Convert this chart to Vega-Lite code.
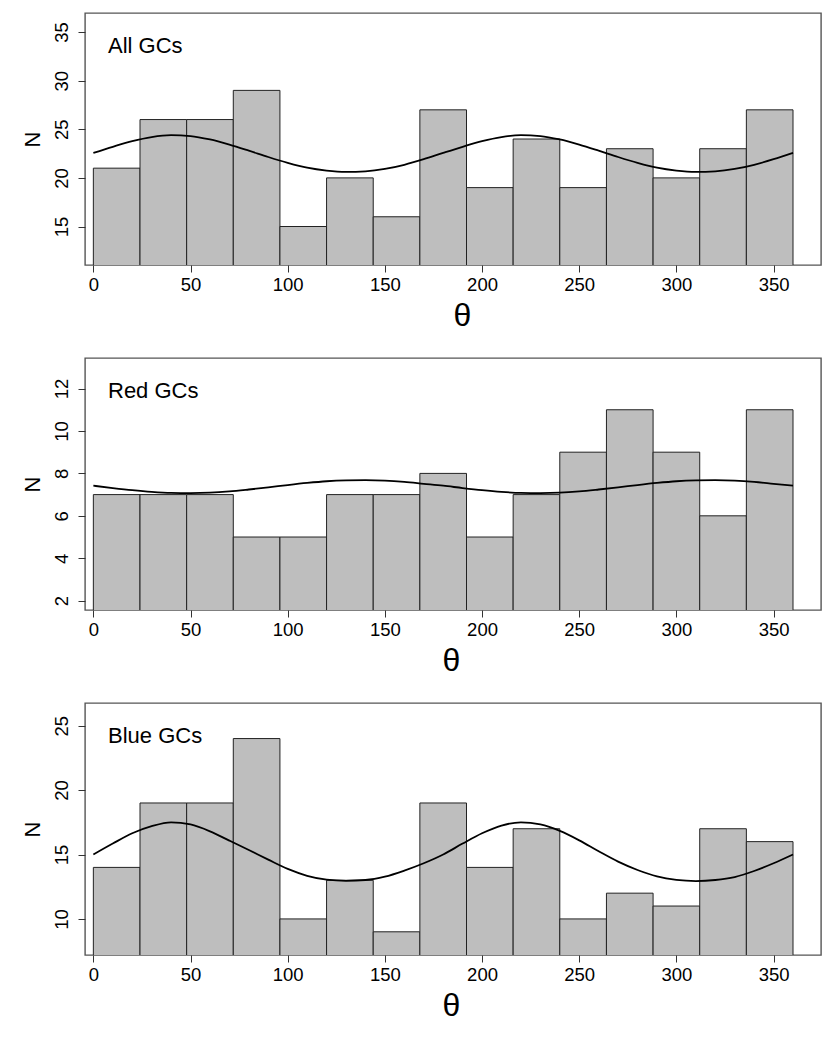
{
  "$schema": "https://vega.github.io/schema/vega-lite/v6.json",
  "padding": {"left": 20, "top": 12, "right": 0, "bottom": 0},
  "datasets": {
    "bars_all": [
      {"theta": 0, "theta_end": 24, "N": 21},
      {"theta": 24, "theta_end": 48, "N": 26},
      {"theta": 48, "theta_end": 72, "N": 26},
      {"theta": 72, "theta_end": 96, "N": 29},
      {"theta": 96, "theta_end": 120, "N": 15},
      {"theta": 120, "theta_end": 144, "N": 20},
      {"theta": 144, "theta_end": 168, "N": 16},
      {"theta": 168, "theta_end": 192, "N": 27},
      {"theta": 192, "theta_end": 216, "N": 19},
      {"theta": 216, "theta_end": 240, "N": 24},
      {"theta": 240, "theta_end": 264, "N": 19},
      {"theta": 264, "theta_end": 288, "N": 23},
      {"theta": 288, "theta_end": 312, "N": 20},
      {"theta": 312, "theta_end": 336, "N": 23},
      {"theta": 336, "theta_end": 360, "N": 27}
    ],
    "fit_all": [
      {"theta": 0, "N": 22.57}, {"theta": 10, "N": 23.2}, {"theta": 20, "N": 23.78},
      {"theta": 30, "N": 24.2}, {"theta": 40, "N": 24.39}, {"theta": 50, "N": 24.3},
      {"theta": 60, "N": 23.95}, {"theta": 70, "N": 23.42}, {"theta": 80, "N": 22.8},
      {"theta": 90, "N": 22.15}, {"theta": 100, "N": 21.55}, {"theta": 110, "N": 21.05},
      {"theta": 120, "N": 20.75}, {"theta": 130, "N": 20.62}, {"theta": 140, "N": 20.68},
      {"theta": 150, "N": 20.92}, {"theta": 160, "N": 21.35}, {"theta": 170, "N": 21.92},
      {"theta": 180, "N": 22.57}, {"theta": 190, "N": 23.2}, {"theta": 200, "N": 23.78},
      {"theta": 210, "N": 24.2}, {"theta": 220, "N": 24.39}, {"theta": 230, "N": 24.3},
      {"theta": 240, "N": 23.95}, {"theta": 250, "N": 23.42}, {"theta": 260, "N": 22.8},
      {"theta": 270, "N": 22.15}, {"theta": 280, "N": 21.55}, {"theta": 290, "N": 21.05},
      {"theta": 300, "N": 20.75}, {"theta": 310, "N": 20.62}, {"theta": 320, "N": 20.68},
      {"theta": 330, "N": 20.92}, {"theta": 340, "N": 21.35}, {"theta": 350, "N": 21.92},
      {"theta": 360, "N": 22.57}
    ],
    "bars_red": [
      {"theta": 0, "theta_end": 24, "N": 7},
      {"theta": 24, "theta_end": 48, "N": 7},
      {"theta": 48, "theta_end": 72, "N": 7},
      {"theta": 72, "theta_end": 96, "N": 5},
      {"theta": 96, "theta_end": 120, "N": 5},
      {"theta": 120, "theta_end": 144, "N": 7},
      {"theta": 144, "theta_end": 168, "N": 7},
      {"theta": 168, "theta_end": 192, "N": 8},
      {"theta": 192, "theta_end": 216, "N": 5},
      {"theta": 216, "theta_end": 240, "N": 7},
      {"theta": 240, "theta_end": 264, "N": 9},
      {"theta": 264, "theta_end": 288, "N": 11},
      {"theta": 288, "theta_end": 312, "N": 9},
      {"theta": 312, "theta_end": 336, "N": 6},
      {"theta": 336, "theta_end": 360, "N": 11}
    ],
    "fit_red": [
      {"theta": 0, "N": 7.42}, {"theta": 10, "N": 7.31}, {"theta": 20, "N": 7.21},
      {"theta": 30, "N": 7.13}, {"theta": 40, "N": 7.08}, {"theta": 50, "N": 7.07},
      {"theta": 60, "N": 7.09}, {"theta": 70, "N": 7.15}, {"theta": 80, "N": 7.24},
      {"theta": 90, "N": 7.34}, {"theta": 100, "N": 7.45}, {"theta": 110, "N": 7.55},
      {"theta": 120, "N": 7.63}, {"theta": 130, "N": 7.67}, {"theta": 140, "N": 7.68},
      {"theta": 150, "N": 7.66}, {"theta": 160, "N": 7.6}, {"theta": 170, "N": 7.51},
      {"theta": 180, "N": 7.42}, {"theta": 190, "N": 7.31}, {"theta": 200, "N": 7.21},
      {"theta": 210, "N": 7.13}, {"theta": 220, "N": 7.08}, {"theta": 230, "N": 7.07},
      {"theta": 240, "N": 7.09}, {"theta": 250, "N": 7.15}, {"theta": 260, "N": 7.24},
      {"theta": 270, "N": 7.34}, {"theta": 280, "N": 7.45}, {"theta": 290, "N": 7.55},
      {"theta": 300, "N": 7.63}, {"theta": 310, "N": 7.67}, {"theta": 320, "N": 7.68},
      {"theta": 330, "N": 7.66}, {"theta": 340, "N": 7.6}, {"theta": 350, "N": 7.51},
      {"theta": 360, "N": 7.42}
    ],
    "bars_blue": [
      {"theta": 0, "theta_end": 24, "N": 14},
      {"theta": 24, "theta_end": 48, "N": 19},
      {"theta": 48, "theta_end": 72, "N": 19},
      {"theta": 72, "theta_end": 96, "N": 24},
      {"theta": 96, "theta_end": 120, "N": 10},
      {"theta": 120, "theta_end": 144, "N": 13},
      {"theta": 144, "theta_end": 168, "N": 9},
      {"theta": 168, "theta_end": 192, "N": 19},
      {"theta": 192, "theta_end": 216, "N": 14},
      {"theta": 216, "theta_end": 240, "N": 17},
      {"theta": 240, "theta_end": 264, "N": 10},
      {"theta": 264, "theta_end": 288, "N": 12},
      {"theta": 288, "theta_end": 312, "N": 11},
      {"theta": 312, "theta_end": 336, "N": 17},
      {"theta": 336, "theta_end": 360, "N": 16}
    ],
    "fit_blue": [
      {"theta": 0, "N": 15.0}, {"theta": 10, "N": 15.85}, {"theta": 20, "N": 16.65},
      {"theta": 30, "N": 17.2}, {"theta": 40, "N": 17.5}, {"theta": 50, "N": 17.33},
      {"theta": 60, "N": 16.8}, {"theta": 70, "N": 16.08}, {"theta": 80, "N": 15.35},
      {"theta": 90, "N": 14.6}, {"theta": 100, "N": 13.88}, {"theta": 110, "N": 13.35},
      {"theta": 120, "N": 13.05}, {"theta": 130, "N": 12.96}, {"theta": 140, "N": 13.02},
      {"theta": 150, "N": 13.28}, {"theta": 160, "N": 13.75}, {"theta": 170, "N": 14.32},
      {"theta": 180, "N": 15.0}, {"theta": 190, "N": 15.85}, {"theta": 200, "N": 16.65},
      {"theta": 210, "N": 17.25}, {"theta": 220, "N": 17.5}, {"theta": 230, "N": 17.33},
      {"theta": 240, "N": 16.83}, {"theta": 250, "N": 16.1}, {"theta": 260, "N": 15.25},
      {"theta": 270, "N": 14.45}, {"theta": 280, "N": 13.8}, {"theta": 290, "N": 13.3},
      {"theta": 300, "N": 13.03}, {"theta": 310, "N": 12.94}, {"theta": 320, "N": 13.02},
      {"theta": 330, "N": 13.25}, {"theta": 340, "N": 13.72}, {"theta": 350, "N": 14.32},
      {"theta": 360, "N": 15.0}
    ]
  },
  "vconcat": [
    {
      "width": 736,
      "height": 252,
      "title": {"text": "All GCs"},
      "encoding": {
        "x": {
          "field": "theta",
          "type": "quantitative",
          "scale": {"domain": [-4.3, 374.4], "nice": false, "zero": false},
          "axis": {"title": "θ", "values": [0, 50, 100, 150, 200, 250, 300, 350], "titleX": 377}
        },
        "y": {
          "field": "N",
          "type": "quantitative",
          "scale": {"domain": [11.04, 36.96], "nice": false, "zero": false},
          "axis": {"title": "N", "values": [15, 20, 25, 30, 35]}
        }
      },
      "layer": [
        {
          "data": {"name": "bars_all"},
          "mark": {"type": "bar", "fill": "#bebebe", "stroke": "#222222", "strokeWidth": 1, "clip": true},
          "encoding": {"x2": {"field": "theta_end"}, "y2": {"datum": 0}}
        },
        {
          "data": {"name": "fit_all"},
          "mark": {"type": "line", "color": "black", "strokeWidth": 1.8, "interpolate": "monotone"}
        }
      ]
    },
    {
      "width": 736,
      "height": 252,
      "title": {"text": "Red GCs"},
      "encoding": {
        "x": {
          "field": "theta",
          "type": "quantitative",
          "scale": {"domain": [-4.3, 374.4], "nice": false, "zero": false},
          "axis": {"title": "θ", "values": [0, 50, 100, 150, 200, 250, 300, 350], "titleX": 366}
        },
        "y": {
          "field": "N",
          "type": "quantitative",
          "scale": {"domain": [1.56, 13.44], "nice": false, "zero": false},
          "axis": {"title": "N", "values": [2, 4, 6, 8, 10, 12]}
        }
      },
      "layer": [
        {
          "data": {"name": "bars_red"},
          "mark": {"type": "bar", "fill": "#bebebe", "stroke": "#222222", "strokeWidth": 1, "clip": true},
          "encoding": {"x2": {"field": "theta_end"}, "y2": {"datum": 0}}
        },
        {
          "data": {"name": "fit_red"},
          "mark": {"type": "line", "color": "black", "strokeWidth": 1.8, "interpolate": "monotone"}
        }
      ]
    },
    {
      "width": 736,
      "height": 252,
      "title": {"text": "Blue GCs"},
      "encoding": {
        "x": {
          "field": "theta",
          "type": "quantitative",
          "scale": {"domain": [-4.3, 374.4], "nice": false, "zero": false},
          "axis": {"title": "θ", "values": [0, 50, 100, 150, 200, 250, 300, 350], "titleX": 366}
        },
        "y": {
          "field": "N",
          "type": "quantitative",
          "scale": {"domain": [7.2, 26.76], "nice": false, "zero": false},
          "axis": {"title": "N", "values": [10, 15, 20, 25]}
        }
      },
      "layer": [
        {
          "data": {"name": "bars_blue"},
          "mark": {"type": "bar", "fill": "#bebebe", "stroke": "#222222", "strokeWidth": 1, "clip": true},
          "encoding": {"x2": {"field": "theta_end"}, "y2": {"datum": 0}}
        },
        {
          "data": {"name": "fit_blue"},
          "mark": {"type": "line", "color": "black", "strokeWidth": 1.8, "interpolate": "monotone"}
        }
      ]
    }
  ],
  "spacing": 93,
  "bounds": "flush",
  "config": {
    "font": "Liberation Sans",
    "view": {"stroke": "#555555", "strokeWidth": 1.4},
    "title": {
      "fontSize": 22,
      "fontWeight": "normal",
      "color": "black",
      "anchor": "start",
      "frame": "group",
      "baseline": "alphabetic",
      "offset": -45,
      "dx": 23
    },
    "axis": {
      "domain": false,
      "grid": false,
      "ticks": true,
      "tickSize": 7,
      "tickColor": "#333333",
      "tickWidth": 1,
      "labelFontSize": 18.5,
      "labelColor": "black",
      "labelFlush": false,
      "labelOverlap": false,
      "titleFontWeight": "normal",
      "titleColor": "black"
    },
    "axisX": {
      "labelPadding": 3,
      "titleFontSize": 32,
      "titleBaseline": "alphabetic",
      "titleY": 60
    },
    "axisY": {
      "labelAngle": -90,
      "labelAlign": "center",
      "labelBaseline": "bottom",
      "labelPadding": 7,
      "titleFontSize": 22,
      "titleAngle": -90,
      "titleBaseline": "alphabetic",
      "titleAlign": "center",
      "titleX": -46,
      "titleY": 126
    }
  }
}
